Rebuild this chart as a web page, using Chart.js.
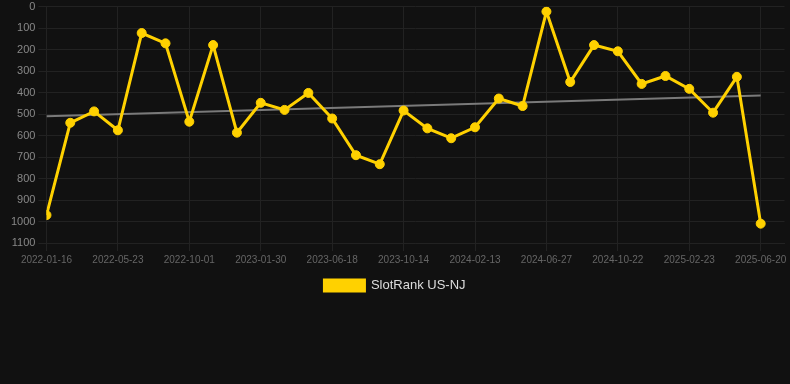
<!DOCTYPE html>
<html>
<head>
<meta charset="utf-8">
<script src="https://cdn.jsdelivr.net/npm/chart.js@4/dist/chart.umd.min.js"></script>
<style>
  html, body { margin: 0; padding: 0; background: #111111; }
  #wrap { position: relative; width: 790px; height: 302px; }
</style>
</head>
<body>
<div id="wrap"><canvas id="c"></canvas></div>
<script>
const dates = [
  "2022-01-16", "2022-02-28", "2022-04-10", "2022-05-23", "2022-07-06", "2022-08-18",
  "2022-10-01", "2022-11-11", "2022-12-20", "2023-01-30", "2023-03-16", "2023-05-02",
  "2023-06-18", "2023-07-27", "2023-09-04", "2023-10-14", "2023-11-24", "2024-01-03",
  "2024-02-13", "2024-03-28", "2024-05-12", "2024-06-27", "2024-08-05", "2024-09-13",
  "2024-10-22", "2024-12-03", "2025-01-12", "2025-02-23", "2025-04-03", "2025-05-12",
  "2025-06-20"
];
const slotRank = [
  970, 540, 487, 575, 122, 170, 535, 178, 586, 447, 480, 401,
  520, 691, 733, 483, 566, 612, 561, 427, 462, 22,
  350, 178, 207, 359, 322, 382, 493, 326, 1010
];
const trendStart = 510;
const trendEnd = 413;
const yTicks = [0, 100, 200, 300, 400, 500, 600, 700, 800, 900, 1000, 1100];
const seriesName = "SlotRank US-NJ";

const FONT = "'Liberation Sans', Arial, Helvetica, sans-serif";
const lastIdx = dates.length - 1;

new Chart(document.getElementById('c'), {
  type: 'line',
  data: {
    datasets: [
      {
        label: seriesName,
        data: slotRank.map((v, i) => ({ x: i, y: v })),
        borderColor: '#ffd100',
        backgroundColor: '#ffd100',
        borderWidth: 3,
        pointRadius: 4.5,
        pointBorderWidth: 1,
        pointBackgroundColor: '#ffd100',
        pointBorderColor: '#ffd100',
        tension: 0
      },
      {
        label: 'trend',
        data: [{ x: 0, y: trendStart }, { x: lastIdx, y: trendEnd }],
        borderColor: '#7a7a7a',
        borderWidth: 2,
        pointRadius: 0,
        tension: 0
      }
    ]
  },
  options: {
    responsive: true,
    maintainAspectRatio: false,
    animation: false,
    layout: { padding: 0 },
    plugins: {
      legend: {
        position: 'bottom',
        labels: {
          color: '#dddddd',
          boxWidth: 40,
          boxHeight: 11,
          font: { family: FONT, size: 13 },
          filter: (item) => item.text !== 'trend'
        }
      },
      tooltip: { enabled: false }
    },
    scales: {
      x: {
        type: 'linear',
        min: 0,
        max: 31,
        grid: { color: '#222222', tickLength: 8 },
        border: { color: '#222222' },
        afterBuildTicks: (scale) => {
          scale.ticks = dates.map((d, i) => i).filter(i => i % 3 === 0).map(v => ({ value: v }));
        },
        ticks: {
          color: '#666666',
          autoSkip: false,
          maxRotation: 0,
          font: { family: FONT, size: 10 },
          callback: (v) => dates[v] !== undefined ? dates[v] : ''
        }
      },
      y: {
        reverse: true,
        min: yTicks[0],
        max: yTicks[yTicks.length - 1],
        grid: { color: '#222222', tickLength: 8 },
        border: { color: '#222222' },
        afterBuildTicks: (scale) => {
          scale.ticks = yTicks.map(v => ({ value: v }));
        },
        afterFit: (scale) => { scale.width = scale.width + 8; },
        ticks: {
          color: '#888888',
          font: { family: FONT, size: 11, lineHeight: 0.7 },
          callback: (v) => String(v)
        }
      }
    }
  }
});
</script>
</body>
</html>
